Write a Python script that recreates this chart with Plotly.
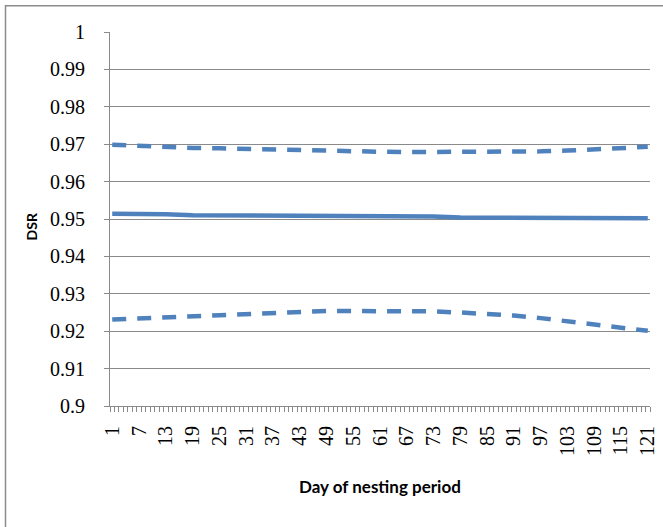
import plotly.graph_objects as go

days = [1, 7, 13, 19, 25, 31, 37, 43, 49, 55, 61, 67, 73, 79, 85, 91, 97, 103, 109, 115, 121]
upper_ci = [0.9699, 0.9695, 0.9693, 0.9690, 0.9689, 0.9687, 0.9685, 0.9683, 0.9682, 0.9680, 0.9680,
            0.9679, 0.9679, 0.9679, 0.9679, 0.9680, 0.9681, 0.9683, 0.9686, 0.9690, 0.9693]
dsr = [0.9514, 0.9514, 0.9513, 0.9510, 0.9510, 0.9510, 0.9510, 0.9510, 0.9507, 0.9507, 0.9507,
       0.9507, 0.9507, 0.9504, 0.9504, 0.9504, 0.9504, 0.9502, 0.9502, 0.9502, 0.9502]
lower_ci = [0.9231, 0.9234, 0.9239, 0.9242, 0.9245, 0.9247, 0.9250, 0.9253, 0.9254, 0.9254, 0.9254,
            0.9254, 0.9253, 0.9250, 0.9246, 0.9242, 0.9235, 0.9226, 0.9219, 0.9210, 0.9201]
x_tick_labels = [str(d) for d in days]
n_days = 121

BLUE = "#4F81BD"
GRAY = "#8a8a8a"
SERIF = "Liberation Serif, Times New Roman, serif"

fig = go.Figure()
fig.add_trace(go.Scatter(x=days, y=upper_ci, mode="lines",
                         line=dict(color=BLUE, width=4.5, dash="14px,11px")))
fig.add_trace(go.Scatter(x=days, y=dsr, mode="lines",
                         line=dict(color=BLUE, width=4.5)))
fig.add_trace(go.Scatter(x=days, y=lower_ci, mode="lines",
                         line=dict(color=BLUE, width=4.5, dash="14px,11px")))

fig.update_layout(
    width=663, height=527,
    margin=dict(l=110, r=13, t=32, b=121, autoexpand=False),
    paper_bgcolor="white", plot_bgcolor="white",
    showlegend=False,
    xaxis=dict(
        range=[0.5, n_days + 0.5],
        tickmode="array", tickvals=days, ticktext=x_tick_labels,
        tickangle=-90, automargin=False,
        ticks="outside", ticklen=11, tickcolor="rgba(0,0,0,0)",
        tickfont=dict(family=SERIF, size=20, color="black"),
        showline=True, linecolor=GRAY, linewidth=1,
        showgrid=False, zeroline=False,
        minor=dict(tickmode="array",
                   tickvals=[i + 0.5 for i in range(0, n_days + 1)],
                   ticks="outside", ticklen=5, tickcolor=GRAY, tickwidth=1,
                   showgrid=False),
    ),
    yaxis=dict(
        range=[0.9, 1.00002], dtick=0.01, tick0=0.9, automargin=False,
        ticks="outside", ticklen=5, tickcolor=GRAY,
        ticklabelstandoff=15,
        tickfont=dict(family=SERIF, size=20, color="black"),
        showline=True, linecolor=GRAY, linewidth=1,
        showgrid=True, gridcolor=GRAY, gridwidth=1,
        zeroline=False,
    ),
    annotations=[
        dict(text="<b>Day of nesting period</b>", xref="paper", yref="paper",
             x=0.5, y=-0.2154, xanchor="center", yanchor="middle", showarrow=False,
             font=dict(family="Lato", size=17, color="black")),
        dict(text="<b>DSR</b>", xref="paper", yref="paper",
             x=(31 - 110) / 540, y=(405.5 - 226) / 373.8, xanchor="center", yanchor="middle",
             showarrow=False, textangle=-90,
             font=dict(family="Lato", size=14, color="black")),
    ],
    shapes=[
        dict(type="rect", xref="paper", yref="paper",
             x0=-0.1935, y0=-0.5, x1=1.2, y1=1.0701,
             line=dict(color="#8c8c8c", width=1.5), layer="below"),
    ],
)

fig.write_html(
    "out.html",
    config={"displayModeBar": False},
    post_script="document.body.style.margin='0px';document.body.style.overflow='hidden';",
)
